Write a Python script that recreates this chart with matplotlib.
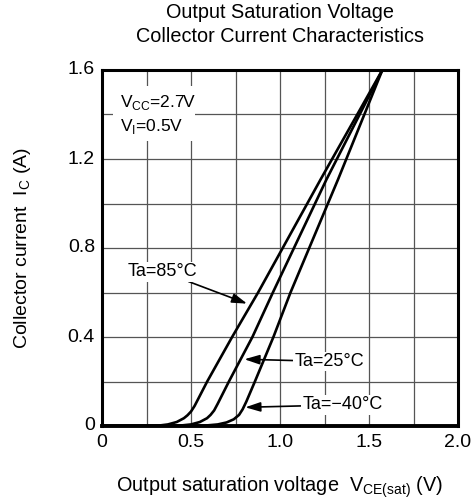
import matplotlib
matplotlib.use("Agg")
import matplotlib.pyplot as plt

plt.rcParams['font.family'] = ['Liberation Sans', 'DejaVu Sans']

# Data
x_85 = [0, 0.25, 0.32, 0.37, 0.42, 0.46, 0.48, 0.50, 0.52, 0.591, 0.731, 0.877, 1.228, 1.575]
y_85 = [0, 0, 0.002, 0.007, 0.018, 0.035, 0.048, 0.065, 0.09, 0.2, 0.4, 0.6, 1.108, 1.6]
x_25 = [0, 0.38, 0.44, 0.50, 0.55, 0.59, 0.61, 0.63, 0.65, 0.713, 0.845, 0.96, 1.261, 1.575]
y_25 = [0, 0, 0.002, 0.007, 0.018, 0.035, 0.05, 0.07, 0.1, 0.2, 0.4, 0.6, 1.108, 1.6]
x_m40 = [0, 0.50, 0.58, 0.65, 0.70, 0.74, 0.77, 0.79, 0.811, 0.859, 0.963, 1.059, 1.326, 1.575]
y_m40 = [0, 0, 0.002, 0.007, 0.016, 0.03, 0.05, 0.075, 0.11, 0.2, 0.4, 0.6, 1.108, 1.6]

x_ticks = [0, 0.5, 1.0, 1.5, 2.0]
x_tick_labels = ["0", "0.5", "1.0", "1.5", "2.0"]
y_ticks = [0, 0.4, 0.8, 1.2, 1.6]
y_tick_labels = ["0", "0.4", "0.8", "1.2", "1.6"]

fig = plt.figure(figsize=(4.76, 5.01), dpi=100)
ax = fig.add_axes([102/476, 1-426/501, 356/476, 356/501])

ax.set_xlim(0, 2.0)
ax.set_ylim(0, 1.6)

# grid
ax.set_xticks([i*0.25 for i in range(9)], minor=False)
ax.set_yticks([i*0.2 for i in range(9)], minor=False)
ax.grid(True, color='#555555', linewidth=0.9)
ax.tick_params(length=0, labelbottom=False, labelleft=False)

for s in ax.spines.values():
    s.set_linewidth(2.2)
ax.spines['bottom'].set_linewidth(2.8)

for xs, ys in [(x_85, y_85), (x_25, y_25), (x_m40, y_m40)]:
    ax.plot(xs, ys, color='black', lw=1.9, solid_joinstyle='round', clip_on=True, zorder=3)

# tick labels as text
for xv, lab in zip(x_ticks, x_tick_labels):
    ax.text(xv, -0.035, lab, ha='center', va='top', fontsize=14, clip_on=False)
for yv, lab in zip(y_ticks, y_tick_labels):
    ax.text(-0.04, yv, lab, ha='right', va='center', fontsize=14, clip_on=False)

# conditions box
ax.text(0.1, 1.454, r"V$_{\mathregular{CC}}$=2.7V", fontsize=12.5, ha='left', va='center',
        zorder=4)
ax.text(0.1, 1.346, r"V$_{\mathregular{I}}$=0.5V", fontsize=12.5, ha='left', va='center',
        zorder=4)
ax.add_patch(plt.Rectangle((0.06, 1.28), 0.46, 0.25, facecolor='white', edgecolor='none', zorder=2.5))

arrow = dict(arrowstyle='-|>,head_length=0.7,head_width=0.22', color='black', lw=1.2,
             shrinkA=0, shrinkB=0)
ax.annotate("Ta=85°C", xy=(0.815, 0.55), xytext=(0.338, 0.694), fontsize=13,
            ha='center', va='center', arrowprops=arrow,
            bbox=dict(facecolor='white', edgecolor='none', pad=1), zorder=5)
ax.annotate("Ta=25°C", xy=(0.80, 0.30), xytext=(1.275, 0.29), fontsize=13,
            ha='center', va='center', arrowprops=arrow,
            bbox=dict(facecolor='white', edgecolor='none', pad=1), zorder=5)
ax.annotate("Ta=\u221240°C", xy=(0.805, 0.084), xytext=(1.35, 0.095), fontsize=13,
            ha='center', va='center', arrowprops=arrow,
            bbox=dict(facecolor='white', edgecolor='none', pad=1), zorder=5)

fig.text(280/476, 1-13/501, "Output Saturation Voltage", ha='center', va='center', fontsize=14.3)
fig.text(280/476, 1-36/501, "Collector Current Characteristics", ha='center', va='center', fontsize=14.3)

fig.text(280/476, 1-487/501, r"Output saturation voltage  V$_{\mathregular{CE(sat)}}$ (V)",
         ha='center', va='center', fontsize=14.3)
fig.text(23/476, 1-248/501, r"Collector current  I$_{\mathregular{C}}$ (A)",
         ha='center', va='center', rotation=90, fontsize=14)

fig.savefig("out.png", dpi=100)
